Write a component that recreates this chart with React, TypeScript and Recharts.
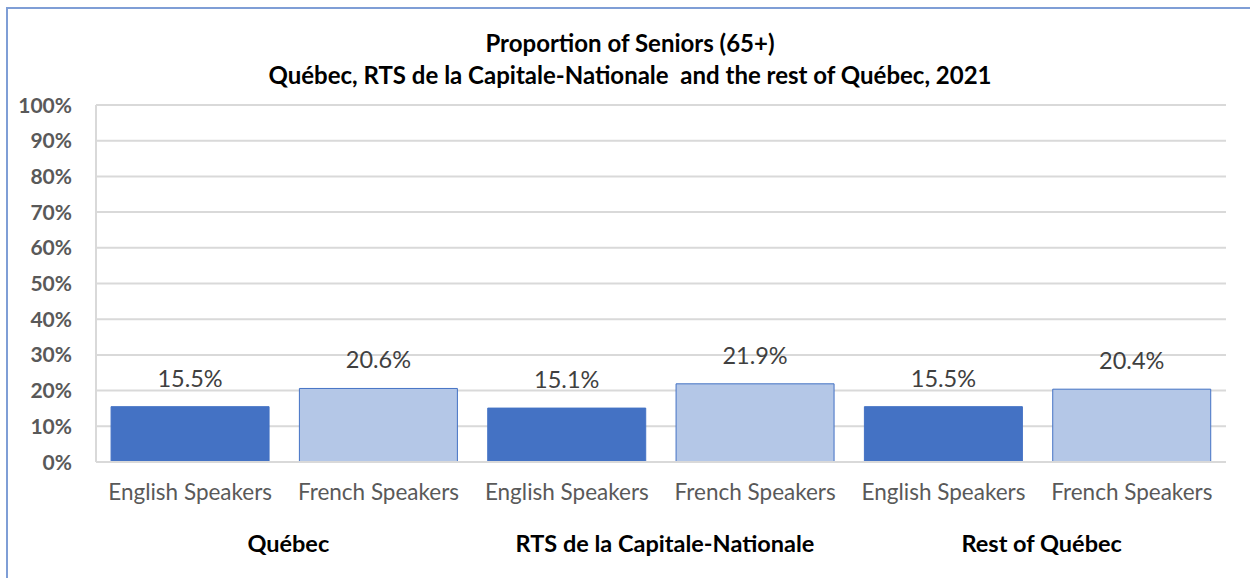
import { Bar, BarChart, CartesianGrid, Cell, LabelList, XAxis, YAxis } from "recharts";

const groups = ["Québec", "RTS de la Capitale-Nationale", "Rest of Québec"];
const speakers = ["English Speakers", "French Speakers"];
const seniorShare = [15.5, 20.6, 15.1, 21.9, 15.5, 20.4];
const yTicks = [0, 10, 20, 30, 40, 50, 60, 70, 80, 90, 100];

const barColors = ["#4472C4", "#B4C7E7"];

const data = seniorShare.map((value, i) => ({
  name: speakers[i % 2],
  group: groups[Math.floor(i / 2)],
  value,
}));

const FONT = "Lato, 'Open Sans', sans-serif";

function CategoryTick(props: any) {
  const { x, y, payload, index } = props;
  const band = 1130 / data.length;
  return (
    <g>
      <text
        x={x}
        y={y + 30}
        textAnchor="middle"
        fill="#595959"
        fontSize={22.5}
        fontFamily={FONT}
      >
        {payload.value}
      </text>
      {index % 2 === 0 && (
        <text
          x={x + band / 2 + 4}
          y={y + 82}
          textAnchor="middle"
          fill="#000000"
          fontSize={23.5}
          fontWeight="bold"
          fontFamily={FONT}
        >
          {data[index].group}
        </text>
      )}
    </g>
  );
}

function PercentTick(props: any) {
  const { y, payload } = props;
  return (
    <text
      x={72}
      y={y + 7.5}
      textAnchor="end"
      fill="#595959"
      fontSize={21}
      fontWeight="bold"
      fontFamily={FONT}
    >
      {payload.value}%
    </text>
  );
}

export default function App() {
  return (
    <div
      style={{
        position: "absolute",
        left: 0,
        top: 0,
        width: 1250,
        height: 578,
        background: "#fff",
        overflow: "hidden",
        fontFamily: FONT,
      }}
    >
      <div
        style={{
          position: "absolute",
          left: 6,
          top: 7,
          width: 1300,
          height: 700,
          borderTop: "2px solid #7F9ED6",
          borderLeft: "2px solid #7F9ED6",
        }}
      />
      <div
        style={{
          position: "absolute",
          left: 0,
          width: 1250,
          top: 27,
          textAlign: "center",
          fontWeight: "bold",
          fontSize: 24,
          lineHeight: "32px",
          color: "#000",
          paddingLeft: 10,
          boxSizing: "border-box",
        }}
      >
        <div>Proportion of Seniors (65+)</div>
        <div>Québec, RTS de la Capitale-Nationale&nbsp; and the rest of Québec, 2021</div>
      </div>
      <div style={{ position: "absolute", left: 0, top: 0 }}>
        <BarChart
          width={1250}
          height={578}
          data={data}
          margin={{ top: 105, right: 24, bottom: 86, left: 0 }}
          barCategoryGap="8%"
        >
          <CartesianGrid vertical={false} stroke="#D9D9D9" strokeWidth={2} />
          <XAxis
            dataKey="name"
            tickLine={false}
            axisLine={{ stroke: "#D9D9D9", strokeWidth: 2 }}
            tick={<CategoryTick />}
            interval={0}
          />
          <YAxis
            width={96}
            domain={[0, 100]}
            ticks={yTicks}
            tickLine={false}
            axisLine={{ stroke: "#D9D9D9", strokeWidth: 2 }}
            tick={<PercentTick />}
          />
          <YAxis
            yAxisId="frame"
            orientation="right"
            width={0}
            domain={[0, 100]}
            tick={false}
            tickLine={false}
            axisLine={{ stroke: "#D9D9D9", strokeWidth: 2 }}
          />
          <Bar dataKey="value" isAnimationActive={false} stroke="#4472C4" strokeWidth={1}>
            {data.map((_, i) => (
              <Cell key={i} fill={barColors[i % 2]} />
            ))}
            <LabelList
              dataKey="value"
              position="top"
              offset={20}
              fill="#404040"
              fontSize={23.5}
              fontFamily={FONT}
              formatter={(v: any) => `${Number(v).toFixed(1)}%`}
            />
          </Bar>
        </BarChart>
      </div>
    </div>
  );
}
